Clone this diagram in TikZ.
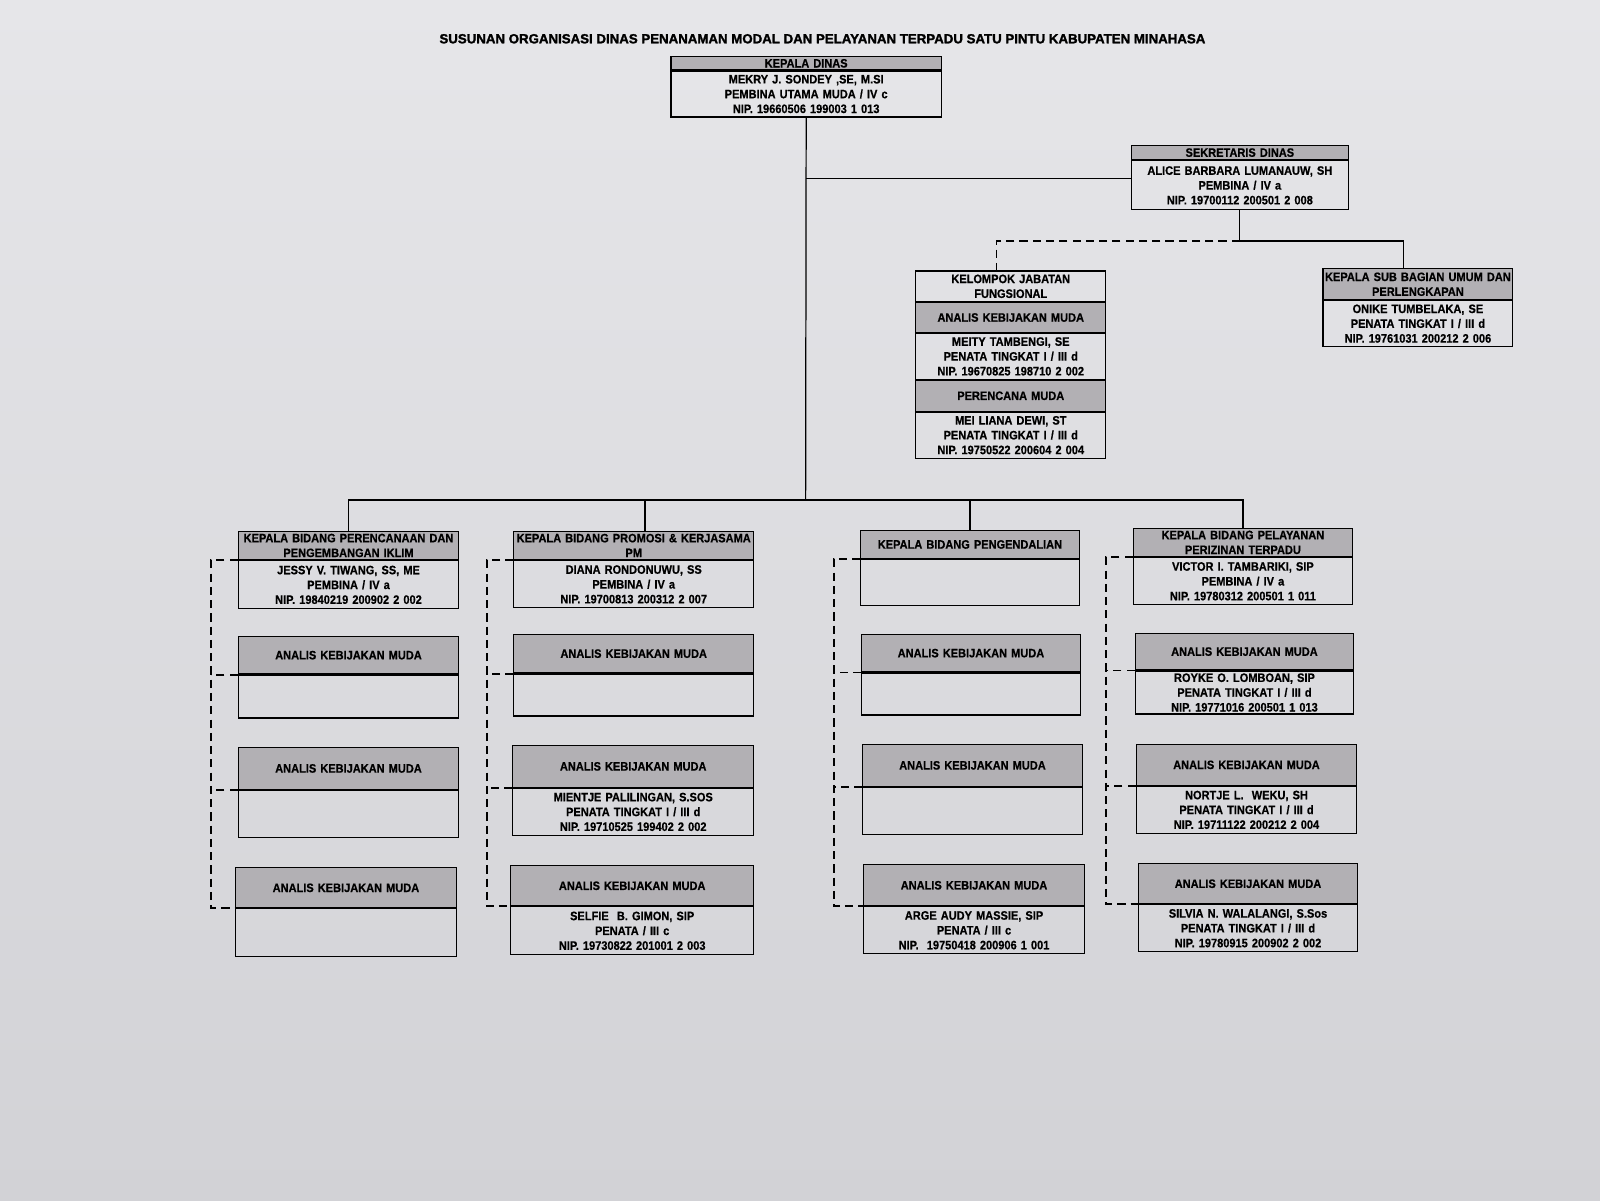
\documentclass[tikz,border=0pt]{standalone}
\usepackage{fontspec}
\setmainfont{Liberation Sans}[FakeStretch=0.9, BoldFeatures={FakeBold=0.6}]
\newfontfamily\judulfont{Liberation Sans}[BoldFeatures={FakeBold=1.8}]
\usetikzlibrary{positioning}
\definecolor{kertas}{RGB}{230,230,233}
\definecolor{kertasbawah}{RGB}{210,210,214}
\definecolor{abu}{RGB}{178,176,180}
\tikzset{
  kotak/.style={draw, line width=1.1pt, inner sep=0pt, align=center, text width=#1, font=\fontsize{12}{14.5}\selectfont\bfseries},
  kop/.style={kotak=#1, fill=abu},
  isi/.style={kotak=#1},
  garis/.style={line width=1.2pt},
  putus/.style={line width=1.8pt, dash pattern=on 8pt off 5pt},
}
\begin{document}
\begin{tikzpicture}[x=1pt,y=-1pt]
						\shade[top color=kertas, bottom color=kertasbawah] (0,0) rectangle (1568,1176);
						\useasboundingbox (0,0) rectangle (1568,1176);
						\node[font=\judulfont\fontsize{13}{15}\selectfont\bfseries] (judul) at (806,38) {SUSUNAN ORGANISASI DINAS PENANAMAN MODAL DAN PELAYANAN TERPADU SATU PINTU KABUPATEN MINAHASA};
						% kepala dinas dan sekretaris
						\node[kop=265pt, minimum height=13pt, anchor=north west] (kd-kop) at (657,55) {KEPALA DINAS};
						\node[isi=265pt, minimum height=45pt, below=0pt of kd-kop] (kd) {MEKRY J. SONDEY ,SE, M.SI\\PEMBINA UTAMA MUDA / IV c\\NIP. 19660506 199003 1 013};
						\node[kop=213pt, minimum height=14pt, anchor=north west] (sek-kop) at (1108,142) {SEKRETARIS DINAS};
						\node[isi=213pt, minimum height=48pt, below=0pt of sek-kop] (sek) {ALICE BARBARA LUMANAUW, SH\\PEMBINA / IV a\\NIP. 19700112 200501 2 008};
						% kelompok jabatan fungsional
						\node[isi=186pt, minimum height=30pt, anchor=north west] (kjf) at (897,265) {KELOMPOK JABATAN\\FUNGSIONAL};
						\node[kop=186pt, minimum height=29pt, below=0pt of kjf] (kjf-ak) {ANALIS KEBIJAKAN MUDA};
						\node[isi=186pt, minimum height=45pt, below=0pt of kjf-ak] (kjf-ak-isi) {MEITY TAMBENGI, SE\\PENATA TINGKAT I / III d\\NIP. 19670825 198710 2 002};
						\node[kop=186pt, minimum height=30pt, below=0pt of kjf-ak-isi] (kjf-pr) {PERENCANA MUDA};
						\node[isi=186pt, minimum height=45pt, below=0pt of kjf-pr] (kjf-pr-isi) {MEI LIANA DEWI, ST\\PENATA TINGKAT I / III d\\NIP. 19750522 200604 2 004};
						% sub bagian
						\node[kop=186pt, minimum height=30pt, anchor=north west] (sub-kop) at (1296,263) {KEPALA SUB BAGIAN UMUM DAN\\PERLENGKAPAN};
						\node[isi=186pt, minimum height=45pt, below=0pt of sub-kop] (sub) {ONIKE TUMBELAKA, SE\\PENATA TINGKAT I / III d\\NIP. 19761031 200212 2 006};
						% bidang perencanaan
						\node[kop=216pt, minimum height=28pt, anchor=north west] (a1-kop) at (233,520) {KEPALA BIDANG PERENCANAAN DAN\\PENGEMBANGAN IKLIM};
						\node[isi=216pt, minimum height=47pt, below=0pt of a1-kop] (a1) {JESSY V. TIWANG, SS, ME\\PEMBINA / IV a\\NIP. 19840219 200902 2 002};
						\node[kop=216pt, minimum height=37pt, anchor=north west] (a2-kop) at (233,623) {ANALIS KEBIJAKAN MUDA};
						\node[isi=216pt, minimum height=42pt, below=0pt of a2-kop] (a2) {};
						\node[kop=216pt, minimum height=41pt, anchor=north west] (a3-kop) at (233,732) {ANALIS KEBIJAKAN MUDA};
						\node[isi=216pt, minimum height=46pt, below=0pt of a3-kop] (a3) {};
						\node[kop=217pt, minimum height=39pt, anchor=north west] (a4-kop) at (230,850) {ANALIS KEBIJAKAN MUDA};
						\node[isi=217pt, minimum height=47pt, below=0pt of a4-kop] (a4) {};
						% bidang promosi
						\node[kop=235pt, minimum height=28pt, anchor=north west] (b1-kop) at (503,520) {KEPALA BIDANG PROMOSI \& KERJASAMA\\PM};
						\node[isi=235pt, minimum height=46pt, below=0pt of b1-kop] (b1) {DIANA RONDONUWU, SS\\PEMBINA / IV a\\NIP. 19700813 200312 2 007};
						\node[kop=235pt, minimum height=38pt, anchor=north west] (b2-kop) at (503,621) {ANALIS KEBIJAKAN MUDA};
						\node[isi=235pt, minimum height=41pt, below=0pt of b2-kop] (b2) {};
						\node[kop=236pt, minimum height=41pt, anchor=north west] (b3-kop) at (502,730) {ANALIS KEBIJAKAN MUDA};
						\node[isi=236pt, minimum height=46pt, below=0pt of b3-kop] (b3) {MIENTJE PALILINGAN, S.SOS\\PENATA TINGKAT I / III d\\NIP. 19710525 199402 2 002};
						\node[kop=238pt, minimum height=39pt, anchor=north west] (b4-kop) at (500,848) {ANALIS KEBIJAKAN MUDA};
						\node[isi=238pt, minimum height=47pt, below=0pt of b4-kop] (b4) {SELFIE~ B. GIMON, SIP\\PENATA / III c\\NIP. 19730822 201001 2 003};
						% bidang pengendalian
						\node[kop=214pt, minimum height=28pt, anchor=north west] (c1-kop) at (843,519) {KEPALA BIDANG PENGENDALIAN};
						\node[isi=214pt, minimum height=45pt, below=0pt of c1-kop] (c1) {};
						\node[kop=214pt, minimum height=37pt, anchor=north west] (c2-kop) at (844,621) {ANALIS KEBIJAKAN MUDA};
						\node[isi=214pt, minimum height=41pt, below=0pt of c2-kop] (c2) {};
						\node[kop=215pt, minimum height=41pt, anchor=north west] (c3-kop) at (845,729) {ANALIS KEBIJAKAN MUDA};
						\node[isi=215pt, minimum height=46pt, below=0pt of c3-kop] (c3) {};
						\node[kop=216pt, minimum height=40pt, anchor=north west] (c4-kop) at (846,847) {ANALIS KEBIJAKAN MUDA};
						\node[isi=216pt, minimum height=46pt, below=0pt of c4-kop] (c4) {ARGE AUDY MASSIE, SIP\\PENATA / III c\\NIP.~ 19750418 200906 1 001};
						% bidang pelayanan perizinan
						\node[kop=215pt, minimum height=28pt, anchor=north west] (d1-kop) at (1110,517) {KEPALA BIDANG PELAYANAN\\PERIZINAN TERPADU};
						\node[isi=215pt, minimum height=46pt, below=0pt of d1-kop] (d1) {VICTOR I. TAMBARIKI, SIP\\PEMBINA / IV a\\NIP. 19780312 200501 1 011};
						\node[kop=214pt, minimum height=36pt, anchor=north west] (d2-kop) at (1112,620) {ANALIS KEBIJAKAN MUDA};
						\node[isi=214pt, minimum height=42pt, below=0pt of d2-kop] (d2) {ROYKE O. LOMBOAN, SIP\\PENATA TINGKAT I / III d\\NIP. 19771016 200501 1 013};
						\node[kop=216pt, minimum height=40pt, anchor=north west] (d3-kop) at (1113,729) {ANALIS KEBIJAKAN MUDA};
						\node[isi=216pt, minimum height=46pt, below=0pt of d3-kop] (d3) {NORTJE L.~ WEKU, SH\\PENATA TINGKAT I / III d\\NIP. 19711122 200212 2 004};
						\node[kop=215pt, minimum height=39pt, anchor=north west] (d4-kop) at (1115,846) {ANALIS KEBIJAKAN MUDA};
						\node[isi=215pt, minimum height=46pt, below=0pt of d4-kop] (d4) {SILVIA N. WALALANGI, S.Sos\\PENATA TINGKAT I / III d\\NIP. 19780915 200902 2 002};
						% garis komando
						\coordinate (bus) at (789.5,490);
						\coordinate (sek-masuk) at ([yshift=7pt]sek.west);
						\coordinate (cabang) at ([yshift=-30pt]sek.south);
						\coordinate (sub-atas) at ([xshift=-14pt]sub-kop.north);
						\coordinate (kjf-atas) at ([xshift=-14pt]kjf.north);
						\coordinate (b1-atas) at ([xshift=11pt]b1-kop.north);
						\draw[garis] (kd.south) -- (bus);
						\draw[garis] (kd.south |- sek-masuk) -- (sek-masuk);
						\draw[garis] (sek.south) -- (cabang) -| (sub-atas);
						\draw[putus] (cabang) -| (kjf-atas);
						\draw[garis] (a1-kop.north) |- (bus) -| (d1-kop.north);
						\draw[garis] (b1-atas) -- (b1-atas |- bus);
						\draw[garis] (c1-kop.north) -- (c1-kop.north |- bus);
						% garis koordinasi
						\foreach \k in {a,b,c,d}{
							\draw[putus] (\k1-kop.south west) -- ++(-26,0) coordinate (\k-rel) |- (\k4-kop.south west);
							\foreach \n in {2,3} \draw[putus] (\k\n-kop.south west) -- (\k-rel |- \k\n-kop.south west);
						}
					\end{tikzpicture}
\end{document}
